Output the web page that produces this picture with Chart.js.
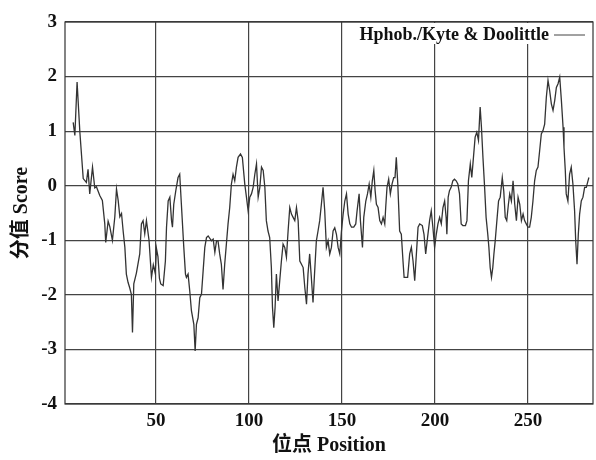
<!DOCTYPE html>
<html>
<head>
<meta charset="utf-8">
<script src="https://cdn.jsdelivr.net/npm/chart.js@4.4.1/dist/chart.umd.min.js"></script>
<style>
  html, body { margin: 0; padding: 0; background: #fff; }
  #wrap { width: 596px; height: 460px; }
</style>
</head>
<body>
<div id="wrap"><canvas id="hphobGraph" width="596" height="460"></canvas></div>
<script>
// Kyte & Doolittle hydrophobicity profile
var positions = [
  5.4, 6.3, 7.5, 9.0, 10.8, 12.5, 13.4, 14.3, 15.8, 17.0, 17.9, 19.7, 21.1, 22.4, 22.9, 24.2, 25.1, 26.5, 27.8, 28.7,
  29.6, 30.5, 31.4, 32.3, 33.2, 34.0, 34.9, 35.8, 36.7, 37.3, 38.0, 39.4, 41.2, 42.1, 43.0, 43.9, 44.8, 46.2, 47.5, 48.5,
  49.5, 50.2, 51.0, 51.8, 52.5, 53.8, 55.0, 55.6, 56.5, 57.4, 58.3, 58.8, 59.5, 60.6, 61.8, 62.7, 63.6, 64.9, 65.8, 66.3,
  67.2, 68.1, 69.0, 70.3, 71.0, 71.7, 72.6, 73.5, 74.4, 75.3, 76.2, 77.1, 78.0, 79.8, 80.7, 81.6, 82.5, 83.3, 84.2, 85.1,
  86.0, 86.9, 87.8, 88.7, 89.6, 90.5, 91.4, 92.3, 93.2, 94.1, 95.4, 96.4, 97.7, 98.6, 99.5, 100.4, 101.3, 102.2, 103.1, 104.0,
  104.9, 105.8, 106.7, 107.6, 108.5, 109.3, 110.2, 111.1, 112.0, 112.6, 113.3, 114.0, 114.7, 115.6, 116.5, 117.4, 118.3, 119.2, 120.1, 121.0,
  121.9, 122.8, 123.7, 124.6, 125.5, 126.4, 127.3, 128.2, 129.1, 130.0, 130.9, 131.7, 132.6, 133.5, 134.4, 135.3, 136.2, 137.1, 138.0, 138.9,
  139.8, 140.7, 141.6, 142.5, 143.4, 144.3, 145.2, 146.1, 147.0, 147.9, 148.8, 149.7, 150.6, 151.5, 152.4, 153.3, 154.2, 155.1, 156.3, 157.4,
  158.1, 159.2, 159.9, 161.0, 161.7, 162.8, 163.7, 164.6, 165.5, 166.3, 167.1, 167.8, 168.5, 169.4, 170.3, 171.2, 172.1, 173.0, 173.5, 174.2,
  175.1, 176.0, 176.9, 177.8, 178.5, 179.2, 180.0, 181.0, 181.9, 182.8, 183.4, 184.3, 185.3, 186.4, 187.3, 188.2, 189.1, 190.0, 190.9, 191.8,
  193.2, 194.1, 195.0, 196.0, 197.1, 198.0, 198.9, 199.8, 200.7, 201.6, 202.5, 203.4, 204.3, 205.2, 206.0, 206.4, 207.1, 207.8, 208.7, 209.6,
  210.5, 211.4, 212.3, 213.2, 214.1, 215.0, 216.4, 217.2, 218.0, 219.0, 219.8, 220.7, 221.6, 222.5, 223.4, 224.3, 225.0, 225.8, 226.7, 227.5,
  228.4, 229.0, 229.7, 230.4, 231.1, 231.7, 232.4, 233.3, 234.2, 235.1, 236.2, 237.0, 237.8, 238.6, 239.5, 240.2, 241.1, 242.0, 242.9, 243.8,
  244.7, 245.6, 246.5, 247.4, 248.2, 249.1, 250.0, 250.9, 251.8, 252.7, 253.6, 254.5, 255.4, 256.3, 257.2, 258.1, 259.0, 259.9, 260.8, 261.7,
  262.6, 263.5, 264.4, 265.3, 266.2, 267.1, 268.0, 268.9, 269.4, 270.1, 270.6, 271.5, 272.4, 273.3, 274.2, 275.1, 275.7, 276.4, 277.1, 277.8,
  278.7, 279.6, 280.5, 281.4, 282.3, 282.8
];
var scores = [
  1.16, 0.92, 1.90, 0.98, 0.13, 0.06, 0.30, -0.15, 0.34, -0.04, -0.02, -0.18, -0.27, -0.70, -1.04, -0.65, -0.75, -1.00, -0.57, -0.06,
  -0.27, -0.57, -0.51, -0.84, -1.13, -1.62, -1.77, -1.87, -1.99, -2.69, -1.80, -1.60, -1.25, -0.70, -0.64, -0.88, -0.64, -1.00, -1.68, -1.45,
  -1.60, -1.15, -1.30, -1.70, -1.80, -1.83, -1.38, -0.76, -0.28, -0.21, -0.64, -0.76, -0.34, -0.09, 0.15, 0.21, -0.34, -1.13, -1.62, -1.68,
  -1.62, -1.93, -2.29, -2.54, -3.03, -2.54, -2.42, -2.05, -1.99, -1.56, -1.13, -0.95, -0.92, -1.01, -0.98, -1.22, -1.01, -1.01, -1.25, -1.44,
  -1.90, -1.44, -1.07, -0.70, -0.40, 0.03, 0.21, 0.09, 0.34, 0.52, 0.58, 0.52, 0.03, -0.21, -0.46, -0.21, -0.15, -0.03, 0.21, 0.40,
  -0.21, -0.03, 0.34, 0.28, -0.03, -0.64, -0.83, -0.95, -1.50, -2.23, -2.60, -2.23, -1.62, -2.11, -1.74, -1.38, -1.07, -1.13, -1.31, -0.83,
  -0.40, -0.52, -0.58, -0.64, -0.40, -0.64, -1.38, -1.44, -1.50, -1.87, -2.17, -1.62, -1.25, -1.68, -2.14, -1.56, -1.01, -0.83, -0.64, -0.34,
  -0.03, -0.46, -1.13, -1.01, -1.25, -1.13, -0.83, -0.77, -0.89, -1.13, -1.25, -0.83, -0.52, -0.28, -0.15, -0.52, -0.70, -0.76, -0.76, -0.70,
  -0.46, -0.15, -0.64, -1.13, -0.58, -0.28, -0.15, 0.03, -0.21, 0.09, 0.28, -0.09, -0.34, -0.40, -0.64, -0.70, -0.58, -0.70, -0.40, -0.03,
  0.12, -0.15, 0.03, 0.15, 0.15, 0.52, 0.03, -0.83, -0.89, -1.38, -1.68, -1.68, -1.68, -1.25, -1.13, -1.38, -1.74, -1.25, -0.76, -0.70,
  -0.73, -0.89, -1.25, -0.95, -0.64, -0.46, -0.77, -1.13, -0.89, -0.70, -0.58, -0.70, -0.40, -0.28, -0.58, -0.89, -0.21, -0.09, -0.03, 0.09,
  0.12, 0.09, 0.03, -0.15, -0.70, -0.73, -0.73, -0.64, 0.09, 0.40, 0.15, 0.52, 0.89, 0.98, 0.83, 1.44, 1.07, 0.52, -0.03, -0.58,
  -0.89, -1.13, -1.50, -1.68, -1.50, -1.25, -1.01, -0.64, -0.28, -0.21, 0.15, -0.10, -0.58, -0.64, -0.34, -0.15, -0.28, 0.09, -0.34, -0.64,
  -0.21, -0.34, -0.64, -0.52, -0.64, -0.70, -0.76, -0.76, -0.58, -0.28, 0.09, 0.28, 0.34, 0.64, 0.95, 1.01, 1.13, 1.62, 1.93, 1.74,
  1.50, 1.38, 1.56, 1.80, 1.87, 1.99, 1.56, 1.07, 0.70, 0.28, -0.15, -0.28, 0.21, 0.34, 0.03, -0.46, -1.01, -1.44, -0.89, -0.52,
  -0.28, -0.21, -0.03, -0.03, 0.09, 0.15
];
var seriesLabel = "Hphob./Kyte & Doolittle";
var xTitle = "位点 Position";
var yTitle = "分值 Score";

var serif = "'Liberation Serif', 'Times New Roman', 'Noto Sans CJK SC', serif";

var hphobData = [];
for (var i = 0; i < positions.length; i++) {
    hphobData.push({x: positions[i], y: scores[i]});
}

// frame round the plot and the boxed label in its top right corner
var framePlugin = {
    id: 'frame',
    afterDatasetsDraw: function(chart) {
        var ctx = chart.ctx, a = chart.chartArea;
        ctx.save();
        ctx.strokeStyle = '#333';
        ctx.lineWidth = 1.2;
        ctx.strokeRect(a.left, a.top, a.right - a.left, a.bottom - a.top);
        // label
        ctx.fillStyle = '#fff';
        ctx.fillRect(a.left + 281, a.top + 1, a.right - a.left - 282, 21);
        ctx.font = "bold 18px " + serif;
        ctx.fillStyle = '#111';
        ctx.textAlign = 'right';
        ctx.textBaseline = 'alphabetic';
        ctx.fillText(seriesLabel, a.right - 44, a.top + 18);
        ctx.beginPath();
        ctx.strokeStyle = '#444';
        ctx.lineWidth = 1;
        ctx.moveTo(a.right - 39, a.top + 13);
        ctx.lineTo(a.right - 8, a.top + 13);
        ctx.stroke();
        ctx.restore();
    }
};

var hphobConfig = {
    type: 'line',
    data: {
        datasets: [{
            label: seriesLabel,
            data: hphobData,
            borderColor: '#333',
            borderWidth: 1.3,
            pointRadius: 0,
            tension: 0,
            fill: false
        }]
    },
    options: {
        responsive: false,
        animation: false,
        layout: { padding: { top: 22, right: 3, left: 0, bottom: 0 } },
        plugins: {
            legend: { display: false },
            tooltip: { enabled: false }
        },
        scales: {
            x: {
                type: 'linear',
                min: 1,
                max: 285,
                afterFit: function(s) { s.height = 56; },
                afterBuildTicks: function(s) {
                    s.ticks = [50, 100, 150, 200, 250].map(function(v) { return {value: v}; });
                },
                grid: { color: '#444', lineWidth: 1.2, drawTicks: false },
                border: { display: false },
                ticks: {
                    padding: 6,
                    color: '#111',
                    font: { family: serif, size: 19, weight: 'bold' }
                },
                title: {
                    display: true,
                    text: xTitle,
                    color: '#111',
                    padding: { top: 0, bottom: 2 },
                    font: { family: serif, size: 20, weight: 'bold' }
                }
            },
            y: {
                min: -4,
                max: 3,
                afterFit: function(s) { s.width = 65; },
                grid: { color: '#444', lineWidth: 1.2, drawTicks: false },
                border: { display: false },
                ticks: {
                    stepSize: 1,
                    padding: 8,
                    color: '#111',
                    font: { family: serif, size: 19, weight: 'bold' }
                },
                title: {
                    display: true,
                    text: yTitle,
                    color: '#111',
                    padding: { top: 10, bottom: 0 },
                    font: { family: serif, size: 20, weight: 'bold' }
                }
            }
        }
    },
    plugins: [framePlugin]
};

var hphobCtx = document.getElementById("hphobGraph");
var hphobChart = new Chart(hphobCtx, hphobConfig);
</script>
</body>
</html>
